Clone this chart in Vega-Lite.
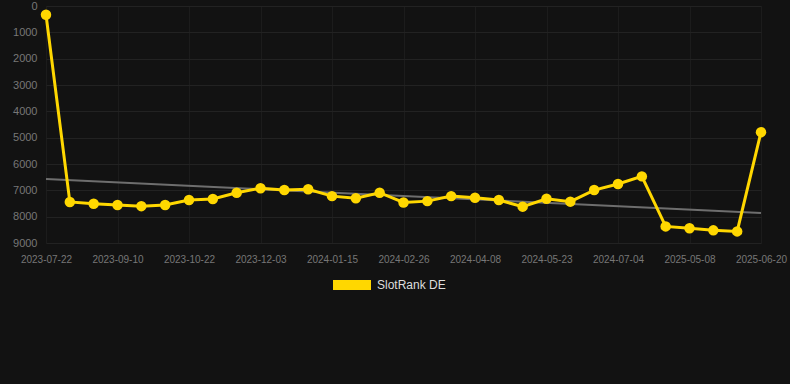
{
  "$schema": "https://vega.github.io/schema/vega-lite/v6.json",
  "width": 750,
  "height": 237,
  "autosize": {"type": "none"},
  "padding": {"left": 40, "top": 6, "right": 0, "bottom": 141},
  "background": "#121212",
  "config": {
    "view": {"stroke": null},
    "font": "Liberation Sans",
    "axis": {"gridColor": "#222222", "gridWidth": 1, "domain": false, "ticks": false, "labelColor": "#777777", "labelFont": "Liberation Sans"}
  },
  "data": {"values": [
    {"date": "2023-07-22", "rank": 330, "trend": 6570},
    {"date": "2023-08-08", "rank": 7440},
    {"date": "2023-08-25", "rank": 7510},
    {"date": "2023-09-10", "rank": 7560},
    {"date": "2023-09-24", "rank": 7600},
    {"date": "2023-10-08", "rank": 7560},
    {"date": "2023-10-22", "rank": 7370},
    {"date": "2023-11-05", "rank": 7330},
    {"date": "2023-11-19", "rank": 7090},
    {"date": "2023-12-03", "rank": 6920},
    {"date": "2023-12-17", "rank": 6990},
    {"date": "2024-01-01", "rank": 6960},
    {"date": "2024-01-15", "rank": 7220},
    {"date": "2024-01-29", "rank": 7300},
    {"date": "2024-02-12", "rank": 7090},
    {"date": "2024-02-26", "rank": 7460},
    {"date": "2024-03-11", "rank": 7410},
    {"date": "2024-03-25", "rank": 7220},
    {"date": "2024-04-08", "rank": 7280},
    {"date": "2024-04-23", "rank": 7370},
    {"date": "2024-05-08", "rank": 7620},
    {"date": "2024-05-23", "rank": 7320},
    {"date": "2024-06-06", "rank": 7430},
    {"date": "2024-06-20", "rank": 6990},
    {"date": "2024-07-04", "rank": 6760},
    {"date": "2024-07-18", "rank": 6470},
    {"date": "2024-08-01", "rank": 8370},
    {"date": "2025-05-08", "rank": 8440},
    {"date": "2025-05-22", "rank": 8520},
    {"date": "2025-06-05", "rank": 8560},
    {"date": "2025-06-20", "rank": 4790, "trend": 7860}
  ]},
  "encoding": {
    "x": {
      "field": "date", "type": "ordinal", "sort": null,
      "scale": {"type": "point", "range": [6, 721], "padding": 0,
        "domain": ["2023-07-22","2023-08-08","2023-08-25","2023-09-10","2023-09-24","2023-10-08","2023-10-22","2023-11-05","2023-11-19","2023-12-03","2023-12-17","2024-01-01","2024-01-15","2024-01-29","2024-02-12","2024-02-26","2024-03-11","2024-03-25","2024-04-08","2024-04-23","2024-05-08","2024-05-23","2024-06-06","2024-06-20","2024-07-04","2024-07-18","2024-08-01","2025-05-08","2025-05-22","2025-06-05","2025-06-20"]},
      "axis": {"title": null, "labelAngle": 0, "labelFontSize": 10, "labelPadding": 11, "grid": true, "gridColor": "#1c1c1c",
        "values": ["2023-07-22", "2023-09-10", "2023-10-22", "2023-12-03", "2024-01-15", "2024-02-26", "2024-04-08", "2024-05-23", "2024-07-04", "2025-05-08", "2025-06-20"]}
    }
  },
  "layer": [
    {
      "transform": [{"filter": "datum.trend != null"}],
      "mark": {"type": "line", "color": "#6e6e6e", "strokeWidth": 2},
      "encoding": {
        "y": {
          "field": "trend", "type": "quantitative",
          "scale": {"domain": [0, 9000], "reverse": true, "nice": false},
          "axis": {"title": null, "values": [0,1000,2000,3000,4000,5000,6000,7000,8000,9000], "format": "d", "labelFontSize": 11, "labelPadding": 3, "grid": true}
        }
      }
    },
    {
      "mark": {"type": "line", "strokeWidth": 3, "point": {"filled": true, "size": 110}},
      "encoding": {
        "y": {
          "field": "rank", "type": "quantitative",
          "scale": {"domain": [0, 9000], "reverse": true, "nice": false},
          "axis": {"title": null, "values": [0,1000,2000,3000,4000,5000,6000,7000,8000,9000], "format": "d", "labelFontSize": 11, "labelPadding": 3, "grid": true}
        },
        "color": {
          "datum": "SlotRank DE", "type": "nominal",
          "scale": {"range": ["#FFD700"]},
          "legend": {
            "title": null, "orient": "none", "legendX": 302, "legendY": 269,
            "symbolType": "M-1.9,-0.5H1.9V0.5H-1.9Z", "symbolSize": 400, "symbolStrokeWidth": 0,
            "labelColor": "#dddddd", "labelFontSize": 12, "labelFont": "Liberation Sans", "labelOffset": 15
          }
        }
      }
    }
  ]
}
